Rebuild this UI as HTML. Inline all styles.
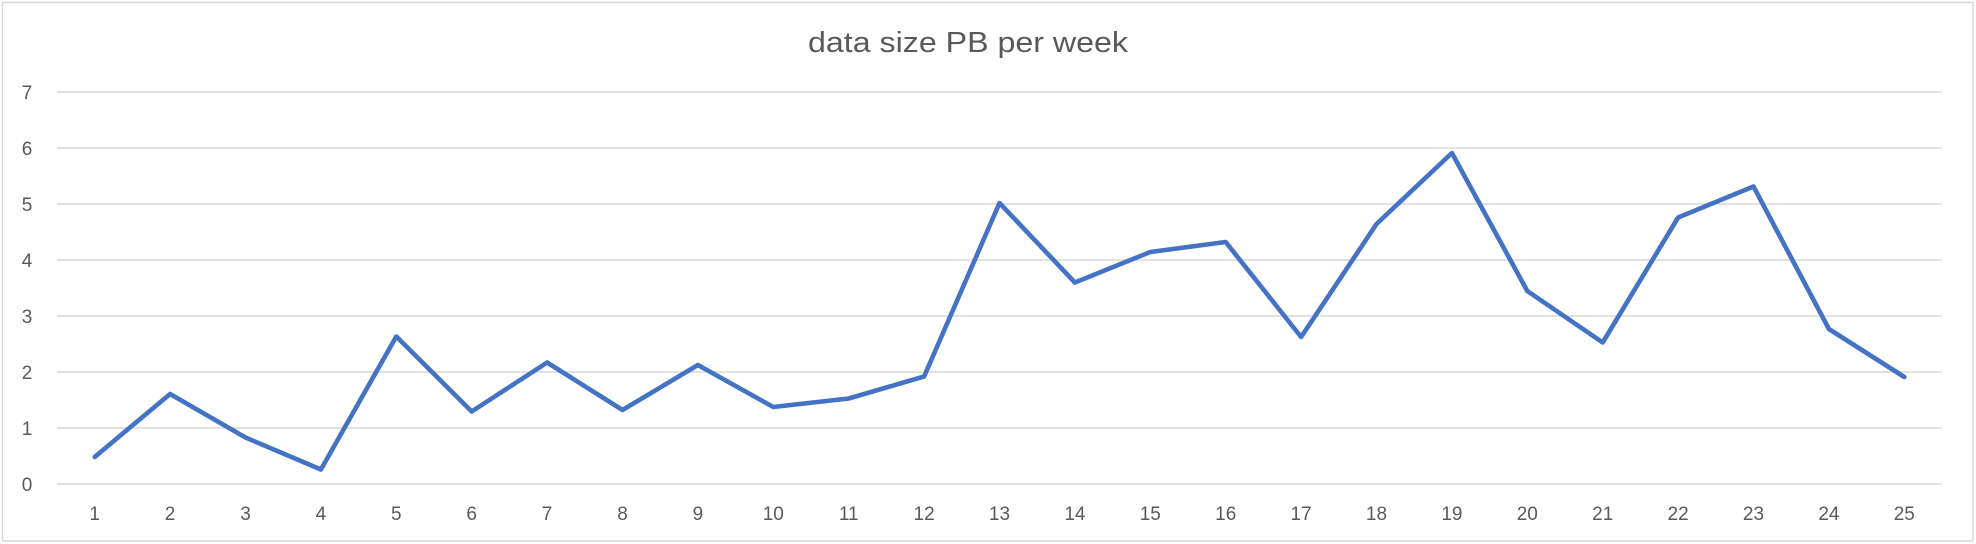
<!DOCTYPE html>
<html>
<head>
<meta charset="utf-8">
<style>
  html, body { margin:0; padding:0; background:#fff; }
  body { width:1976px; height:544px; overflow:hidden; }
  svg { display:block; }
  text { font-family: "Liberation Sans", "DejaVu Sans", sans-serif; fill:#595959; }
</style>
</head>
<body>
<svg width="1976" height="544" viewBox="0 0 1976 544" xmlns="http://www.w3.org/2000/svg">
  <rect x="0" y="0" width="1976" height="544" fill="#ffffff"/>
  <rect x="2.5" y="2.5" width="1970.5" height="538.5" fill="none" stroke="#d9d9d9" stroke-width="1.5"/>

  <text x="968" y="52" font-size="29" text-anchor="middle" textLength="320" lengthAdjust="spacingAndGlyphs">data size PB per week</text>

  <g stroke="#d9d9d9" stroke-width="1.5">
    <line x1="57" y1="92" x2="1942" y2="92"/>
    <line x1="57" y1="148" x2="1942" y2="148"/>
    <line x1="57" y1="204" x2="1942" y2="204"/>
    <line x1="57" y1="260" x2="1942" y2="260"/>
    <line x1="57" y1="316" x2="1942" y2="316"/>
    <line x1="57" y1="372" x2="1942" y2="372"/>
    <line x1="57" y1="428" x2="1942" y2="428"/>
    <line x1="57" y1="484" x2="1942" y2="484"/>
  </g>

  <g font-size="19" text-anchor="middle">
    <text x="27" y="99">7</text>
    <text x="27" y="155">6</text>
    <text x="27" y="211">5</text>
    <text x="27" y="267">4</text>
    <text x="27" y="323">3</text>
    <text x="27" y="379">2</text>
    <text x="27" y="435">1</text>
    <text x="27" y="491">0</text>
  </g>

  <g font-size="19" text-anchor="middle">
    <text x="94.7" y="520">1</text>
    <text x="170.1" y="520">2</text>
    <text x="245.5" y="520">3</text>
    <text x="320.9" y="520">4</text>
    <text x="396.3" y="520">5</text>
    <text x="471.7" y="520">6</text>
    <text x="547.1" y="520">7</text>
    <text x="622.5" y="520">8</text>
    <text x="697.9" y="520">9</text>
    <text x="773.3" y="520">10</text>
    <text x="848.7" y="520">11</text>
    <text x="924.1" y="520">12</text>
    <text x="999.5" y="520">13</text>
    <text x="1074.9" y="520">14</text>
    <text x="1150.3" y="520">15</text>
    <text x="1225.7" y="520">16</text>
    <text x="1301.1" y="520">17</text>
    <text x="1376.5" y="520">18</text>
    <text x="1451.9" y="520">19</text>
    <text x="1527.3" y="520">20</text>
    <text x="1602.7" y="520">21</text>
    <text x="1678.1" y="520">22</text>
    <text x="1753.5" y="520">23</text>
    <text x="1828.9" y="520">24</text>
    <text x="1904.3" y="520">25</text>
  </g>

  <polyline fill="none" stroke="#4472c4" stroke-width="4.6" stroke-linejoin="round" stroke-linecap="round"
    points="
    94.7,457
    170.1,394
    245.5,437.5
    320.9,469.5
    396.3,336.5
    471.7,411.5
    547.1,362.5
    622.5,410
    697.9,365
    773.3,407
    848.7,398.5
    924.1,376.5
    999.5,203
    1074.9,282.5
    1150.3,252
    1225.7,242
    1301.1,337
    1376.5,224
    1451.9,153
    1527.3,291
    1602.7,342.5
    1678.1,217.5
    1753.5,186.5
    1828.9,329
    1904.3,377"/>
</svg>
</body>
</html>
